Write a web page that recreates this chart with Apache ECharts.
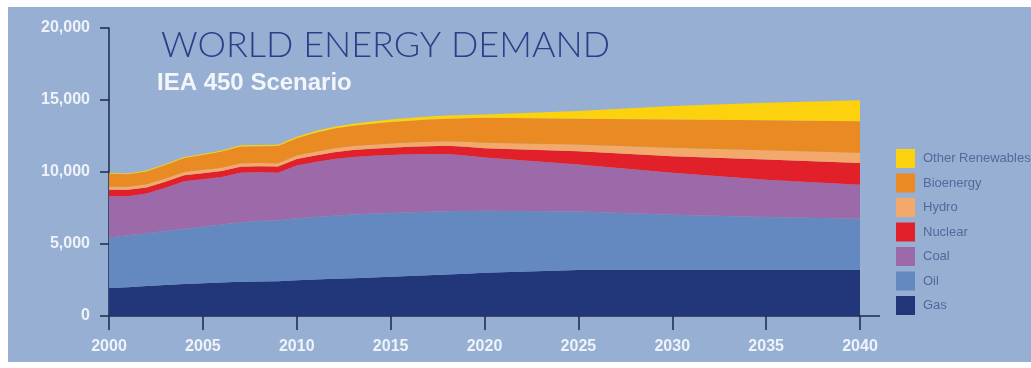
<!DOCTYPE html>
<html>
<head>
<meta charset="utf-8">
<script src="https://cdn.jsdelivr.net/npm/echarts@6/dist/echarts.min.js"></script>
<style>
html,body{margin:0;padding:0;background:#ffffff;}
#chart{width:1031px;height:368px;}
</style>
</head>
<body>
<div id="chart"></div>
<script>
// ---- data (Mtoe) ----
var years = [2000,2001,2002,2003,2004,2005,2006,2007,2008,2009,2010,2011,2012,2013,2014,2015,2016,2017,2018,2019,2020,2025,2030,2035,2040];
var gas     = [1950,2000,2080,2150,2220,2270,2320,2370,2400,2420,2480,2530,2580,2630,2680,2730,2780,2830,2880,2940,3000,3200,3200,3200,3200];
var oil     = [3500,3600,3670,3750,3830,3930,4030,4130,4200,4230,4300,4340,4380,4410,4420,4420,4420,4410,4390,4350,4310,4060,3830,3670,3550];
var coal    = [2860,2720,2750,3000,3300,3300,3300,3450,3380,3300,3670,3830,3940,4010,4030,4030,4030,4010,3980,3860,3690,3260,2910,2600,2370];
var nuclear = [460,440,420,420,430,420,420,420,420,430,450,450,480,480,490,510,520,540,570,600,650,920,1160,1390,1510];
var hydro   = [220,220,230,230,220,230,230,230,230,220,250,250,270,270,280,290,300,310,310,350,380,470,580,650,700];
var bio     = [910,870,890,940,980,1030,1120,1170,1160,1200,1190,1330,1370,1410,1450,1500,1510,1540,1570,1630,1740,1790,1970,2090,2200];
var otherRen= [50,50,60,60,70,70,80,80,90,100,110,120,130,140,150,170,190,210,220,230,230,530,930,1210,1460];

var seriesNames = ['Gas','Oil','Coal','Nuclear','Hydro','Bioenergy','Other Renewables'];
var legendOrder = ['Other Renewables','Bioenergy','Hydro','Nuclear','Coal','Oil','Gas'];
var xTicks = [2000,2005,2010,2015,2020,2025,2030,2035,2040];
var yTicks = [0,5000,10000,15000,20000];

var colors = {
  'Gas':'#22367a','Oil':'#6389c0','Coal':'#9c6aa8','Nuclear':'#e1202a',
  'Hydro':'#f3a96a','Bioenergy':'#ea8a22','Other Renewables':'#fcd20e'
};
var valuesByName = {'Gas':gas,'Oil':oil,'Coal':coal,'Nuclear':nuclear,'Hydro':hydro,'Bioenergy':bio,'Other Renewables':otherRen};

// value first, year second, so the library stacks the value dimension
function pairs(arr){ return years.map(function(y,i){ return [arr[i], y]; }); }

var chart = echarts.init(document.getElementById('chart'), null, {renderer:'canvas'});

var series = seriesNames.map(function(n){
  return {
    name:n, type:'line', stack:'total', data:pairs(valuesByName[n]),
    encode:{x:1, y:0},
    showSymbol:false, symbol:'none', smooth:false,
    lineStyle:{width:0, color:colors[n]},
    itemStyle:{color:colors[n]},
    areaStyle:{color:colors[n], opacity:1},
    emphasis:{disabled:true}, z:2
  };
});

var labelStyle = {color:'#eef3fa', fontSize:16, fontWeight:'bold', fontFamily:'Liberation Sans, Arial, sans-serif'};

chart.setOption({
  animation:false,
  backgroundColor:'#ffffff',
  title:[
    {text:'WORLD ENERGY DEMAND', left:161, top:27, padding:0,
     textStyle:{fontFamily:'Lato, Open Sans, sans-serif', fontWeight:300, fontSize:36, color:'#2b3f88'}},
    {text:'IEA 450 Scenario', left:157, top:71, padding:0,
     textStyle:{fontFamily:'Liberation Sans, Arial, sans-serif', fontWeight:'bold', fontSize:24, color:'#f2f5fa'}}
  ],
  legend:{
    data:legendOrder, orient:'vertical', left:896, top:149, padding:0,
    itemWidth:19, itemHeight:19, itemGap:5.5, icon:'rect',
    textStyle:{color:'#56679a', fontSize:13, fontFamily:'Liberation Sans Narrow, Arial Narrow, sans-serif', padding:[0,0,0,3]},
    selectedMode:false
  },
  grid:{left:109, right:171, top:28, bottom:52, containLabel:false},
  xAxis:{
    type:'value', min:2000, max:2040, interval:5,
    axisLine:{show:true, lineStyle:{color:'#1d2a4c', width:1.5}},
    axisTick:{show:true, length:14, lineStyle:{color:'#1d2a4c', width:1.5}},
    axisLabel:Object.assign({margin:23, formatter:function(v){return xTicks.indexOf(v)>=0 ? String(v) : '';}}, labelStyle),
    splitLine:{show:false}
  },
  yAxis:{
    type:'value', min:0, max:20000, interval:5000,
    axisLine:{show:true, lineStyle:{color:'#1d2a4c', width:1.5}},
    axisTick:{show:true, length:9, lineStyle:{color:'#1d2a4c', width:1.5}},
    axisLabel:Object.assign({margin:19, formatter:function(v){return yTicks.indexOf(v)>=0 ? v.toLocaleString('en-US') : '';}}, labelStyle),
    splitLine:{show:false}
  },
  series:series
});

// background panel and the short extension of the x-axis line beyond the last tick
var p = chart.convertToPixel({xAxisIndex:0, yAxisIndex:0}, [2040, 0]);
chart.setOption({graphic:[
  {type:'rect', left:8, top:7, shape:{width:1023, height:355}, style:{fill:'#97afd2'}, z:-10, silent:true},
  {type:'line', shape:{x1:p[0], y1:p[1], x2:p[0]+20, y2:p[1]}, style:{stroke:'#1d2a4c', lineWidth:1.5}, z:10, silent:true}
]});
</script>
</body>
</html>
